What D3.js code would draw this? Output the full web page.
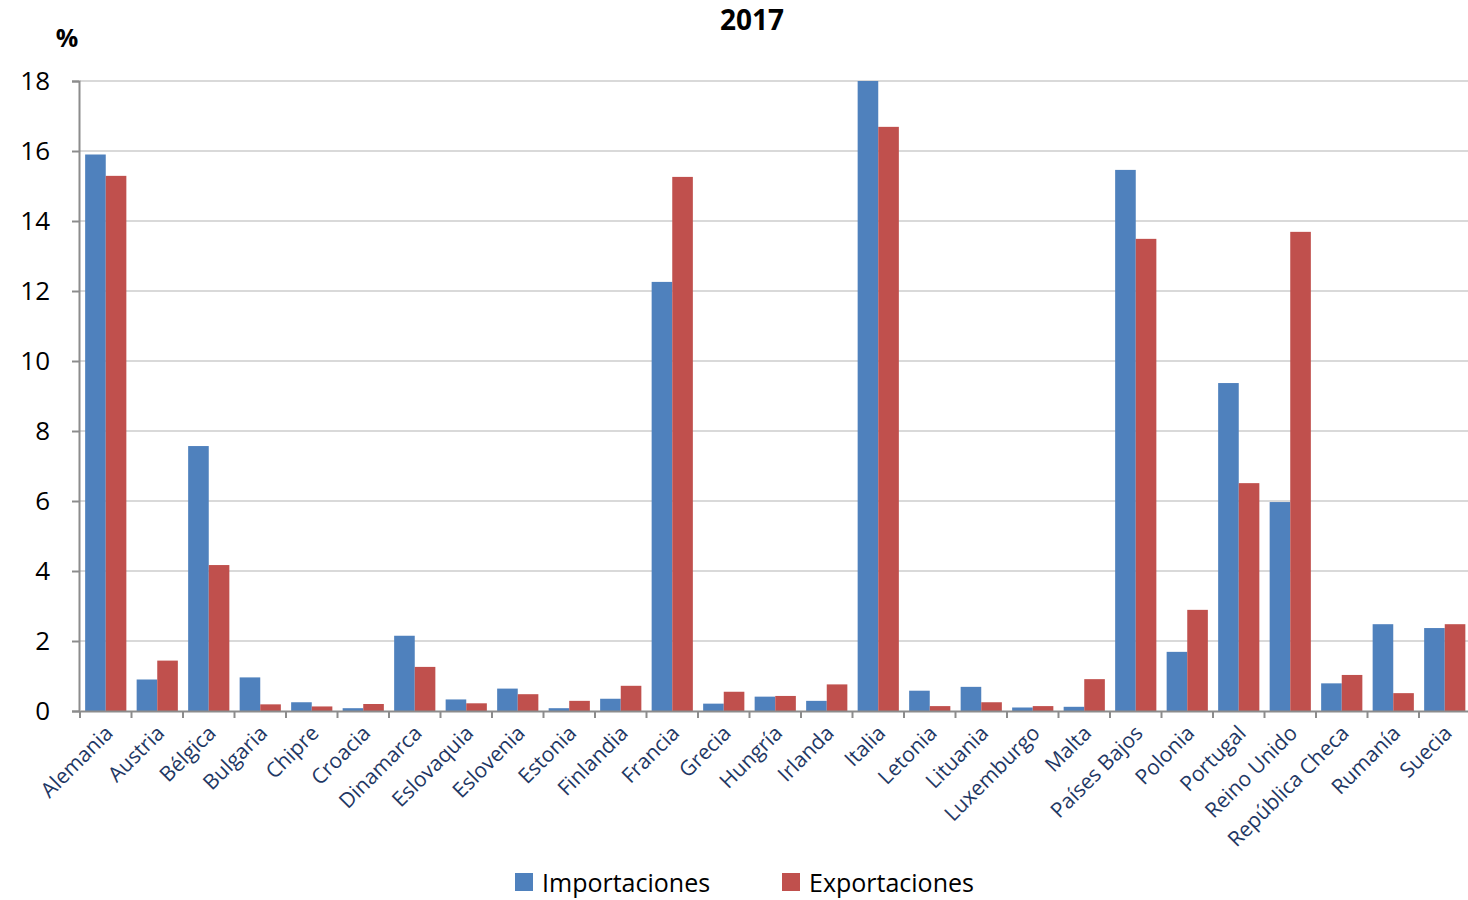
<!DOCTYPE html>
<html lang="es">
<head>
<meta charset="utf-8">
<script src="https://d3js.org/d3.v7.min.js"></script>
<style>
  body { margin: 0; background: #fff; }
  text { font-family: "Open Sans", "Noto Sans", sans-serif; }
</style>
</head>
<body>
<script>
    var w = 1468, h = 900;

    var paises = ['Alemania', 'Austria', 'Bélgica', 'Bulgaria', 'Chipre', 'Croacia', 'Dinamarca',
        'Eslovaquia', 'Eslovenia', 'Estonia', 'Finlandia', 'Francia', 'Grecia', 'Hungría', 'Irlanda',
        'Italia', 'Letonia', 'Lituania', 'Luxemburgo', 'Malta', 'Países Bajos', 'Polonia', 'Portugal',
        'Reino Unido', 'República Checa', 'Rumanía', 'Suecia'];
    var importaciones = [15.9, 0.9, 7.57, 0.96, 0.25, 0.08, 2.15, 0.33, 0.64, 0.08, 0.35, 12.26, 0.21, 0.41, 0.29,
        18.0, 0.58, 0.69, 0.1, 0.12, 15.46, 1.69, 9.37, 5.97, 0.79, 2.48, 2.37];
    var exportaciones = [15.29, 1.44, 4.17, 0.19, 0.13, 0.2, 1.26, 0.22, 0.48, 0.29, 0.72, 15.26, 0.55, 0.43, 0.76,
        16.69, 0.14, 0.25, 0.14, 0.91, 13.49, 2.89, 6.51, 13.69, 1.03, 0.51, 2.48];
    var yTicks = [0, 2, 4, 6, 8, 10, 12, 14, 16, 18];
    var series = ['Importaciones', 'Exportaciones'];
    var colores = ['#4F81BD', '#C0504D'];

    var m = {left: 80, right: -2.5, top: 81, bottom: 189};
    var svg = d3.select('body').append('svg').attr('width', w).attr('height', h);

    var x = d3.scaleBand().domain(paises).range([m.left, w - m.right]).paddingInner(0.2).paddingOuter(0.1);
    var xb = d3.scaleBand().domain(paises).range([m.left, w - m.right]);
    var x1 = d3.scaleBand().domain(series).range([0, x.bandwidth()]);
    var y = d3.scaleLinear().domain([0, 18]).range([h - m.bottom, m.top]);

    // gridlines
    svg.append('g').selectAll('line').data(yTicks.slice(1)).enter().append('line')
        .attr('x1', m.left).attr('x2', w)
        .attr('y1', function(d) { return y(d); }).attr('y2', function(d) { return y(d); })
        .attr('stroke', '#d9d9d9').attr('stroke-width', 2);

    // bars
    var datos = paises.map(function(p, i) { return {pais: p, vals: [importaciones[i], exportaciones[i]]}; });
    var grupos = svg.append('g').selectAll('g').data(datos).enter().append('g')
        .attr('transform', function(d) { return 'translate(' + x(d.pais) + ',0)'; });
    grupos.selectAll('rect').data(function(d) { return d.vals; }).enter().append('rect')
        .attr('x', function(d, i) { return x1(series[i]); })
        .attr('width', x1.bandwidth())
        .attr('y', function(d) { return y(d); })
        .attr('height', function(d) { return y(0) - y(d); })
        .attr('fill', function(d, i) { return colores[i]; });

    // y axis
    var yAxis = svg.append('g').attr('transform', 'translate(' + (m.left - 1) + ',0)')
        .call(d3.axisLeft(y).tickValues(yTicks).tickSize(7).tickPadding(22));
    yAxis.select('.domain').attr('stroke', '#8c8c8c').attr('stroke-width', 2);
    yAxis.selectAll('.tick line').attr('stroke', '#8c8c8c').attr('stroke-width', 2);
    yAxis.selectAll('.tick text').attr('font-size', 26).attr('fill', '#000')
        .style('font-family', '"Open Sans", sans-serif');

    // x axis
    var xAxis = svg.append('g').attr('transform', 'translate(0,' + y(0) + ')')
        .call(d3.axisBottom(xb).tickSize(0).tickFormat(''));
    xAxis.select('.domain').attr('stroke', '#8c8c8c').attr('stroke-width', 2);
    svg.append('g').selectAll('line').data(paises.concat(['__fin'])).enter().append('line')
        .attr('x1', function(d, i) { return m.left + i * xb.step(); })
        .attr('x2', function(d, i) { return m.left + i * xb.step(); })
        .attr('y1', y(0)).attr('y2', y(0) + 7)
        .attr('stroke', '#8c8c8c').attr('stroke-width', 2);

    svg.append('g').selectAll('text').data(paises).enter().append('text')
        .text(function(d) { return d; })
        .attr('transform', function(d) {
            var cx = xb(d) + xb.bandwidth() / 2 - 2;
            return 'translate(' + cx + ',' + (y(0) + 13) + ') rotate(-45)';
        })
        .attr('text-anchor', 'end')
        .attr('dy', '0.7em')
        .attr('font-size', 21)
        .attr('fill', '#1F3864');

    // title and unit
    svg.append('text').text('2017').attr('x', 752).attr('y', 30)
        .attr('text-anchor', 'middle').attr('font-size', 28).attr('font-weight', 'bold');
    svg.append('text').text('%').attr('x', 67).attr('y', 47)
        .attr('text-anchor', 'middle').attr('font-size', 25).attr('font-weight', 'bold');

    // legend
    var leyX = [515, 782];
    var ley = svg.append('g').selectAll('g').data(series).enter().append('g')
        .attr('transform', function(d, i) { return 'translate(' + leyX[i] + ',873)'; });
    ley.append('rect').attr('width', 18).attr('height', 18)
        .attr('fill', function(d, i) { return colores[i]; });
    ley.append('text').text(function(d) { return d; })
        .attr('x', 27).attr('y', 19).attr('font-size', 25).attr('fill', '#000');
</script>
</body>
</html>
